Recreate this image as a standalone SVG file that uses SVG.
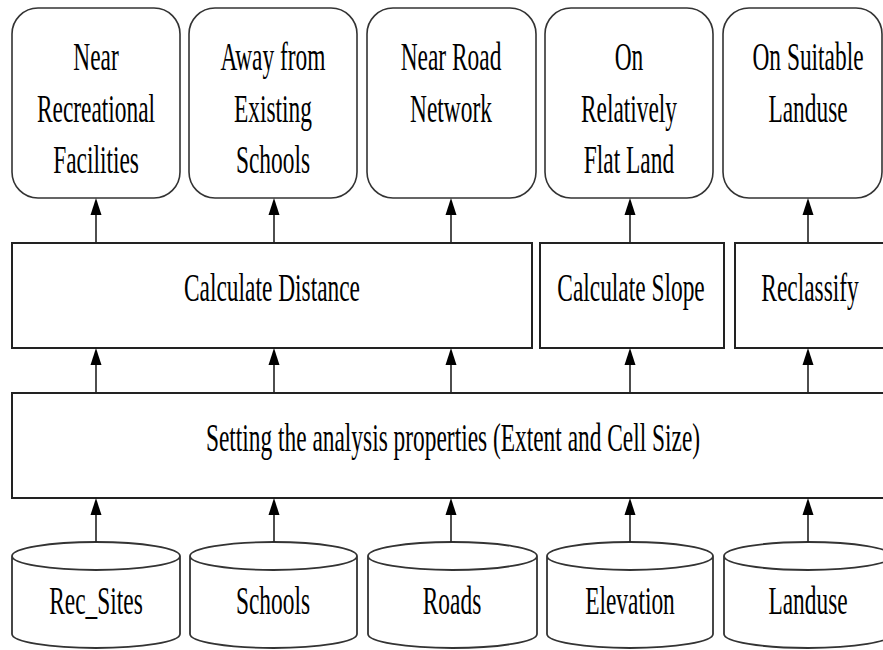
<svg xmlns="http://www.w3.org/2000/svg" width="883" height="650" viewBox="0 0 883 650">
<style>
.box{fill:#fff;stroke:#222;stroke-width:2}
.rbox{fill:#fff;stroke:#333;stroke-width:1.6}
.cyl{fill:#fff;stroke:#333;stroke-width:1.8}
.edge{stroke:#222;stroke-width:1.6;fill:none}
.t{font-family:"Liberation Serif","Times New Roman",serif;font-size:40px;fill:#000;text-anchor:middle}
</style>
<defs>
<path id="ah" d="M0,0 L-5.5,17 L5.5,17 Z" fill="#000"/>
</defs>
<rect width="883" height="650" fill="#fff"/>

<g id="goal1"><rect class="rbox" x="12" y="8" width="168" height="190" rx="26"/>
<g transform="translate(96,0) scale(0.585,1)"><text class="t" x="0" y="70">Near</text><text class="t" x="0" y="122">Recreational</text><text class="t" x="0" y="173">Facilities</text></g></g>
<g id="goal2"><rect class="rbox" x="189" y="8" width="168" height="190" rx="26"/>
<g transform="translate(273,0) scale(0.585,1)"><text class="t" x="0" y="70">Away from</text><text class="t" x="0" y="122">Existing</text><text class="t" x="0" y="173">Schools</text></g></g>
<g id="goal3"><rect class="rbox" x="367" y="8" width="169" height="190" rx="26"/>
<g transform="translate(451,0) scale(0.585,1)"><text class="t" x="0" y="70">Near Road</text><text class="t" x="0" y="122">Network</text></g></g>
<g id="goal4"><rect class="rbox" x="545" y="8" width="168" height="190" rx="26"/>
<g transform="translate(629,0) scale(0.585,1)"><text class="t" x="0" y="70">On</text><text class="t" x="0" y="122">Relatively</text><text class="t" x="0" y="173">Flat Land</text></g></g>
<g id="goal5"><rect class="rbox" x="723" y="8" width="159" height="190" rx="26"/>
<g transform="translate(808,0) scale(0.585,1)"><text class="t" x="0" y="70">On Suitable</text><text class="t" x="0" y="122">Landuse</text></g></g>

<g id="calcdist"><rect class="box" x="12" y="243" width="520" height="105"/>
<g transform="translate(272,0) scale(0.585,1)"><text class="t" x="0" y="301">Calculate Distance</text></g></g>
<g id="calcslope"><rect class="box" x="540" y="243" width="184" height="105"/>
<g transform="translate(631,0) scale(0.585,1)"><text class="t" x="0" y="301">Calculate Slope</text></g></g>
<g id="reclass"><rect class="box" x="735" y="243" width="152" height="105"/>
<g transform="translate(810,0) scale(0.585,1)"><text class="t" x="0" y="301">Reclassify</text></g></g>

<g id="setting"><rect class="box" x="12" y="393" width="875" height="105"/>
<g transform="translate(453,0) scale(0.585,1)"><text class="t" x="0" y="451">Setting the analysis properties (Extent and Cell Size)</text></g></g>

<g id="recsites"><path class="cyl" d="M12,556 A84,14 0 0 1 180,556 L180,634 A84,14 0 0 1 12,634 Z M12,556 A84,14 0 0 0 180,556"/>
<g transform="translate(96,0) scale(0.585,1)"><text class="t" x="0" y="614">Rec_Sites</text></g></g>
<g id="schools"><path class="cyl" d="M190,556 A83.5,14 0 0 1 357,556 L357,634 A83.5,14 0 0 1 190,634 Z M190,556 A83.5,14 0 0 0 357,556"/>
<g transform="translate(273,0) scale(0.585,1)"><text class="t" x="0" y="614">Schools</text></g></g>
<g id="roads"><path class="cyl" d="M368,556 A84.5,14 0 0 1 537,556 L537,634 A84.5,14 0 0 1 368,634 Z M368,556 A84.5,14 0 0 0 537,556"/>
<g transform="translate(452,0) scale(0.585,1)"><text class="t" x="0" y="614">Roads</text></g></g>
<g id="elevation"><path class="cyl" d="M547,556 A83,14 0 0 1 713,556 L713,634 A83,14 0 0 1 547,634 Z M547,556 A83,14 0 0 0 713,556"/>
<g transform="translate(630,0) scale(0.585,1)"><text class="t" x="0" y="614">Elevation</text></g></g>
<g id="landuse"><path class="cyl" d="M724,556 A84,14 0 0 1 892,556 L892,634 A84,14 0 0 1 724,634 Z M724,556 A84,14 0 0 0 892,556"/>
<g transform="translate(808,0) scale(0.585,1)"><text class="t" x="0" y="614">Landuse</text></g></g>

<g id="connectors">
<path class="edge" d="M96,542V512 M274,542V512 M451,542V512 M630,542V512 M808,542V512"/>
<use href="#ah" x="96" y="498"/><use href="#ah" x="274" y="498"/><use href="#ah" x="451" y="498"/><use href="#ah" x="630" y="498"/><use href="#ah" x="808" y="498"/>
<path class="edge" d="M96,393V362 M274,393V362 M451,393V362 M630,393V362 M808,393V362"/>
<use href="#ah" x="96" y="348"/><use href="#ah" x="274" y="348"/><use href="#ah" x="451" y="348"/><use href="#ah" x="630" y="348"/><use href="#ah" x="808" y="348"/>
<path class="edge" d="M96,243V212 M274,243V212 M451,243V212 M630,243V212 M808,243V212"/>
<use href="#ah" x="96" y="198"/><use href="#ah" x="274" y="198"/><use href="#ah" x="451" y="198"/><use href="#ah" x="630" y="198"/><use href="#ah" x="808" y="198"/>
</g>
</svg>
